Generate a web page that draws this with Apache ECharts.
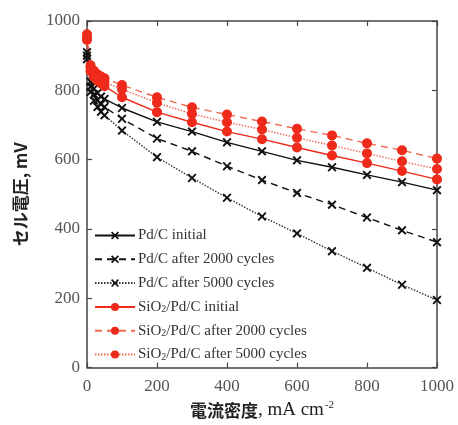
<!DOCTYPE html>
<html><head><meta charset="utf-8">
<script src="https://cdn.jsdelivr.net/npm/echarts@6/dist/echarts.min.js"></script>
<style>html,body{margin:0;padding:0;background:#fff}#c{width:458px;height:425px}</style>
</head><body><div id="c"></div>
<script>
const xVals = [0, 10, 20, 30, 40, 50, 100, 200, 300, 400, 500, 600, 700, 800, 900, 1000];
const pdInitial   = [910, 825, 805, 792, 782, 775, 749, 709, 681, 650, 624, 598, 578, 556, 535, 512];
const pd2000      = [900, 810, 788, 772, 760, 752, 718, 661, 624, 581, 541, 504, 470, 433, 396, 362];
const pd5000      = [890, 795, 770, 752, 738, 728, 684, 607, 547, 490, 436, 387, 336, 288, 239, 195];
const siInitial   = [945, 855, 838, 828, 820, 812, 780, 737, 708, 681, 659, 635, 612, 590, 567, 543];
const si2000      = [962, 872, 856, 846, 840, 835, 815, 780, 751, 730, 710, 689, 670, 647, 627, 603];
const si5000      = [952, 865, 848, 838, 830, 824, 803, 764, 732, 708, 687, 663, 641, 618, 595, 573];
const seriesNames = ['Pd/C initial','Pd/C after 2000 cycles','Pd/C after 5000 cycles',
  'SiO2/Pd/C initial','SiO2/Pd/C after 2000 cycles','SiO2/Pd/C after 5000 cycles'];
const xTicks = [0,200,400,600,800,1000];
const yTicks = [0,200,400,600,800,1000];

const cross = 'path://M1.5,0 L5,3.5 L8.5,0 L10,1.5 L6.5,5 L10,8.5 L8.5,10 L5,6.5 L1.5,10 L0,8.5 L3.5,5 L0,1.5 Z';
function pair(arr){ return xVals.map((x,i)=>[x,arr[i]]); }
const black = '#111', red = '#ee2a1a', redLight = '#f2664f';
function mk(name, data, color, lineColor, type, symbol, size){
  return {name, type:'line', data:pair(data), symbol, symbolSize:size,
    itemStyle:{color}, lineStyle:{color:lineColor, width:1.4, type}, z: 3};
}
const series = [
  mk(seriesNames[0], pdInitial, black, black, 'solid', cross, 9),
  mk(seriesNames[1], pd2000, black, black, [7,5], cross, 9),
  mk(seriesNames[2], pd5000, black, '#333', [1.5,1.5], cross, 9),
  mk(seriesNames[3], siInitial, red, red, 'solid', 'circle', 10),
  mk(seriesNames[4], si2000, red, redLight, [7,5], 'circle', 10),
  mk(seriesNames[5], si5000, red, redLight, [1.5,1.5], 'circle', 10),
];
const serif = 'Liberation Serif';
const chart = echarts.init(document.getElementById('c'));
const axisLineStyle = {color:'#444', width:1.5};
const tick = {inside:true, length:5, lineStyle:{color:'#444', width:1.2}};
chart.setOption({
  animation:false,
  textStyle:{fontFamily:serif},
  grid:{left:87, right:21, top:21, bottom:53},
  legend:{orient:'vertical', left:89, top:223, itemWidth:40, itemHeight:10, itemGap:8.8,
    textStyle:{fontFamily:serif, fontSize:15, lineHeight:15, color:'#333', padding:[0,0,0,-2],
      rich:{s:{fontFamily:serif, fontSize:10, lineHeight:15, color:'#333', verticalAlign:'bottom'},
            n:{fontFamily:serif, fontSize:15, lineHeight:15, color:'#333'}}},
    formatter: function(n){
      if (n.indexOf('SiO2')===0) return '{n|SiO}{s|2}{n|' + n.slice(4) + '}';
      return n;
    }
  },
  xAxis:[{type:'value', min:0, max:1000, interval:200, position:'bottom',
    name:'{a|電流密度}{c|, mA cm}{b|-2}', nameLocation:'middle', nameGap:29,
    nameTextStyle:{fontFamily:serif, rich:{a:{fontFamily:'Noto Sans CJK JP', fontWeight:'bold', fontSize:17, color:'#222'},
      c:{fontFamily:serif, fontSize:19, color:'#222'},
      b:{fontFamily:serif, fontSize:11, color:'#222', verticalAlign:'bottom', padding:[0,0,11,1]}}},
    axisLine:{onZero:false, lineStyle:axisLineStyle}, axisTick:tick,
    splitLine:{show:false},
    axisLabel:{fontFamily:serif, fontSize:17, color:'#555', margin:10, formatter:v=>String(v)}},
   {type:'value', min:0, max:1000, interval:200, position:'top',
    axisLine:{onZero:false, lineStyle:axisLineStyle}, axisTick:tick,
    axisLabel:{show:false}, splitLine:{show:false}}],
  yAxis:[{type:'value', min:0, max:1000, interval:200, position:'left',
    name:'セル電圧, mV', nameLocation:'middle', nameGap:58,
    nameTextStyle:{fontFamily:'Noto Sans CJK JP', fontWeight:'bold', fontSize:17, color:'#222'},
    axisLine:{onZero:false, lineStyle:axisLineStyle}, axisTick:tick,
    splitLine:{show:false},
    axisLabel:{fontFamily:serif, fontSize:17, color:'#555', margin:7, formatter:v=>String(v)}},
   {type:'value', min:0, max:1000, interval:200, position:'right',
    axisLine:{onZero:false, lineStyle:axisLineStyle}, axisTick:tick,
    axisLabel:{show:false}, splitLine:{show:false}}],
  series
});
</script></body></html>
